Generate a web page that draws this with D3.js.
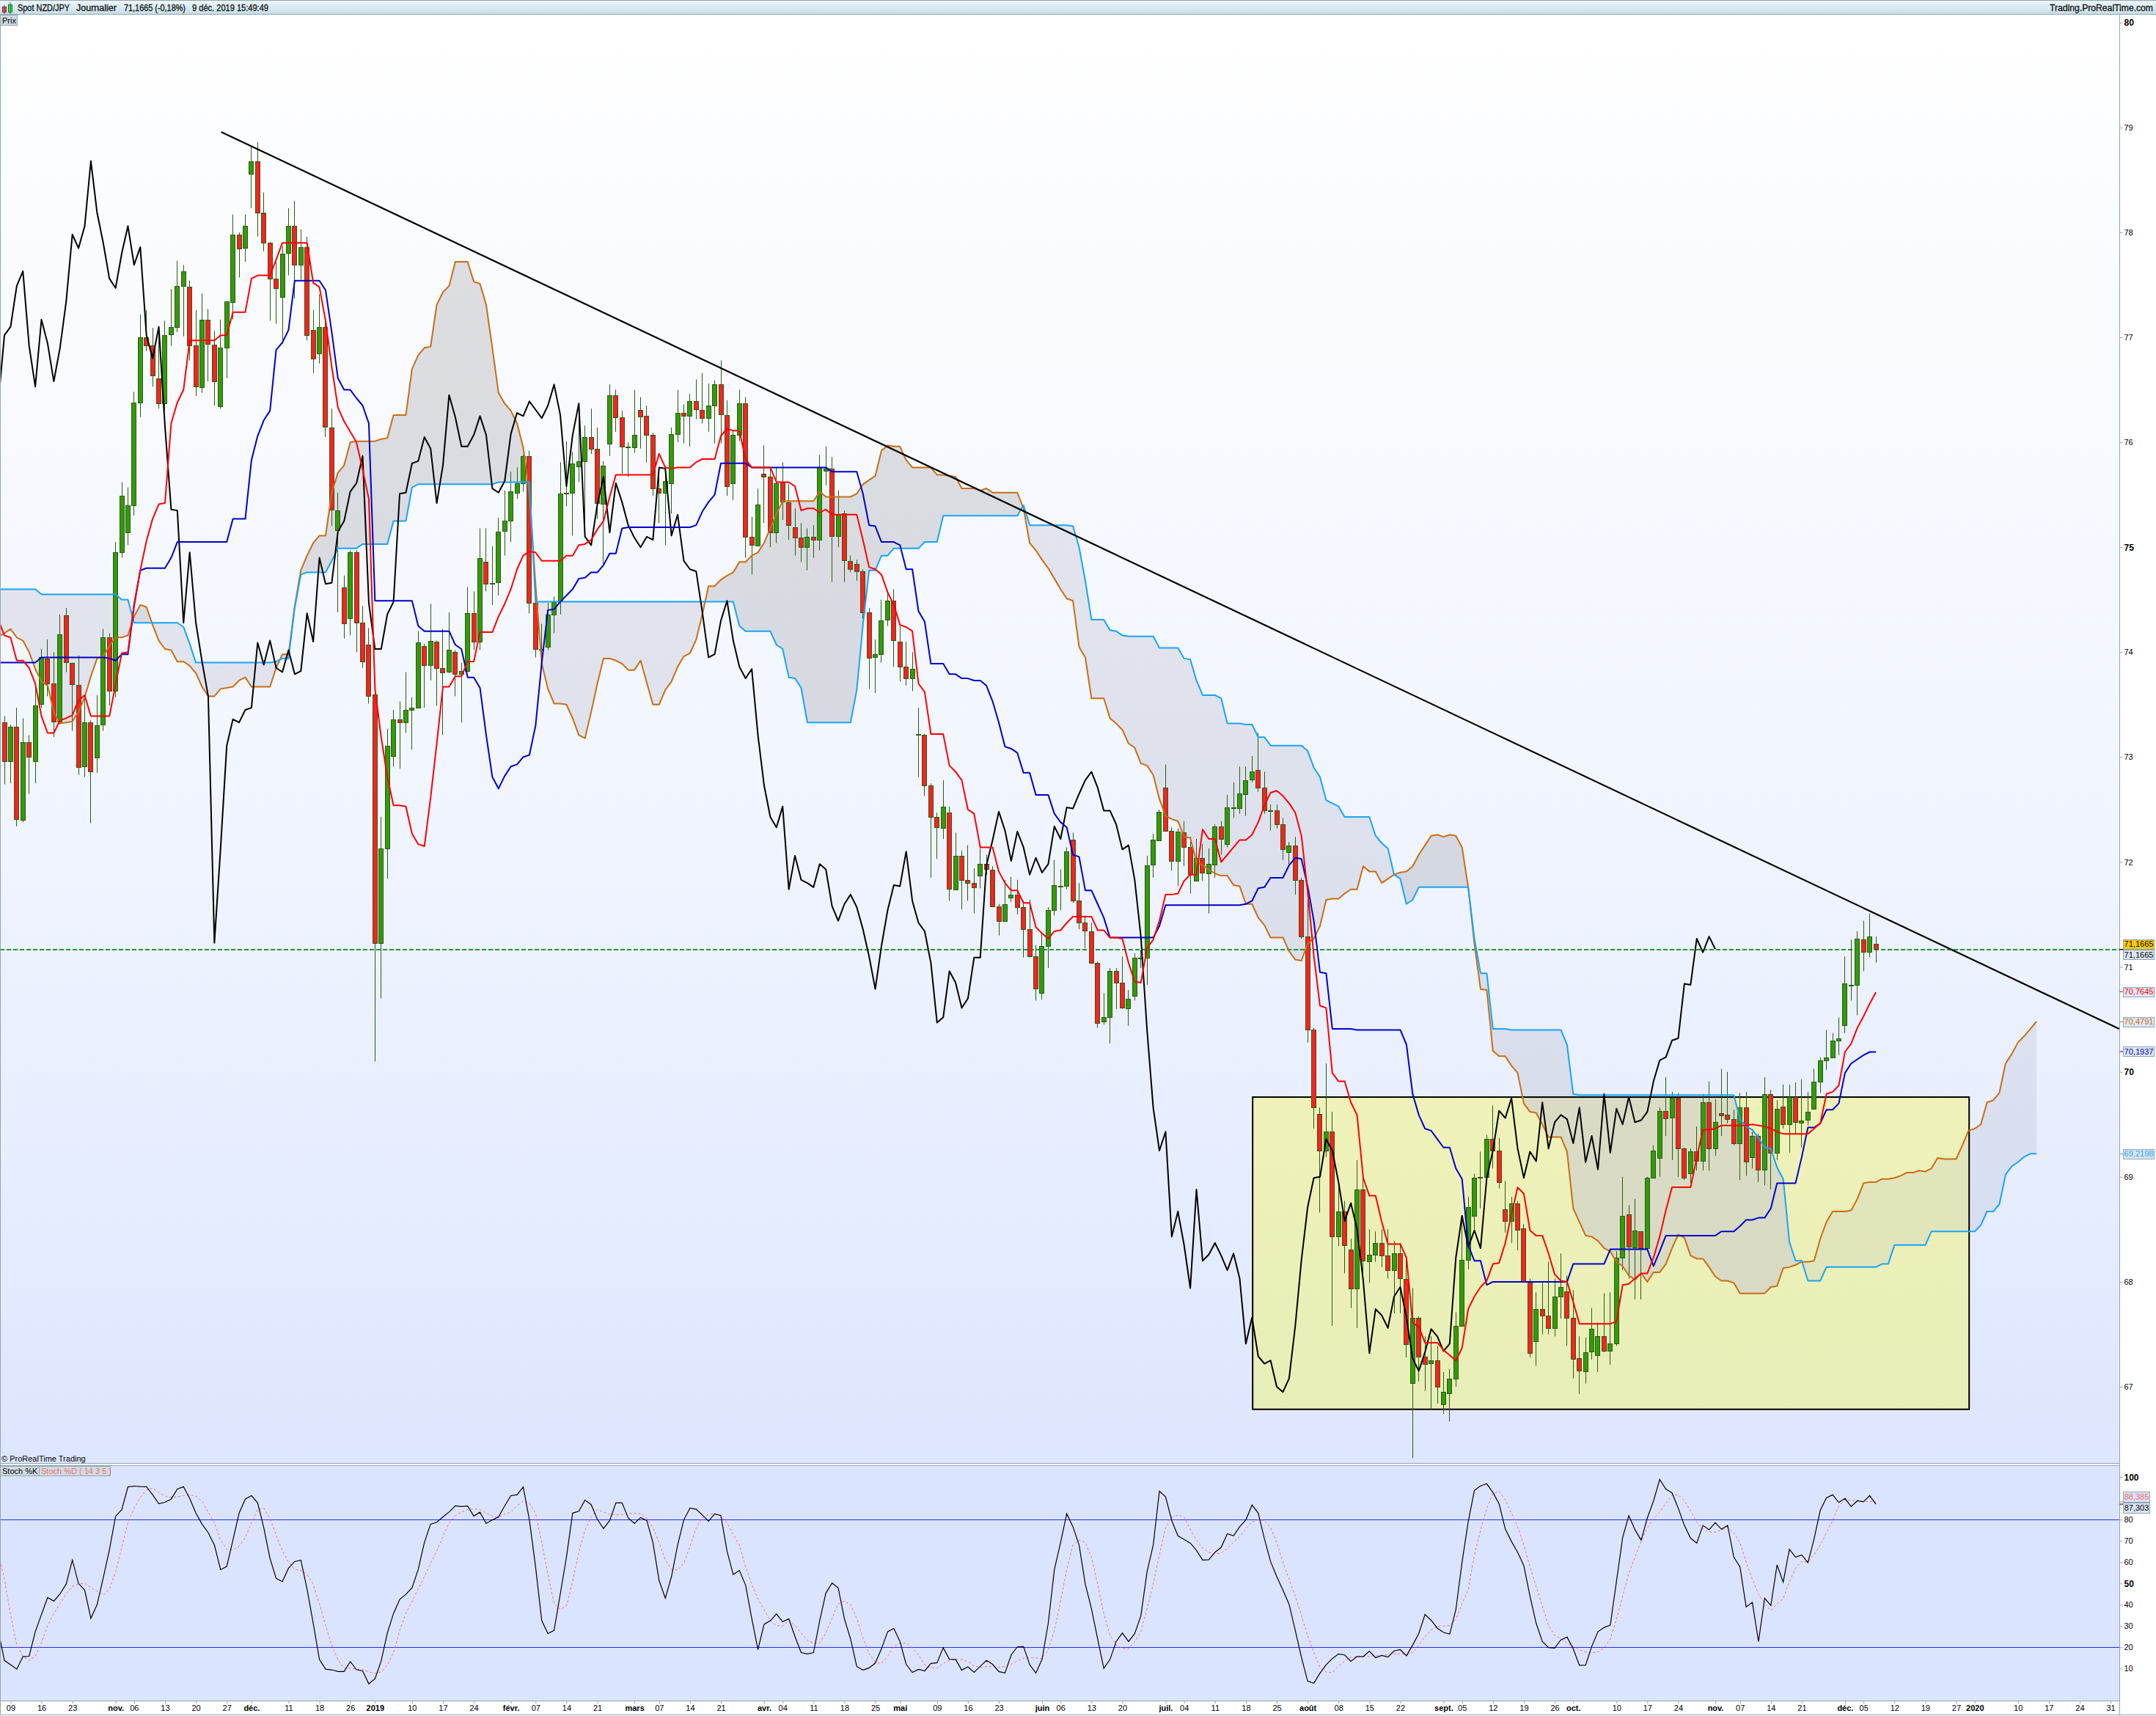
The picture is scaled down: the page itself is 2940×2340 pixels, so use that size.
<!DOCTYPE html>
<html><head><meta charset="utf-8">
<script src="https://cdn.jsdelivr.net/npm/d3@7"></script>
<style>
html,body{margin:0;padding:0;background:#fff}
svg{display:block}
text{font-family:"Liberation Sans",Arial,sans-serif}
</style></head><body>
<svg id="c" width="2940" height="2340" xmlns="http://www.w3.org/2000/svg"></svg>
<script>
const opens=[
73.33,72.96,73.29,72.40,73.14,72.96,73.50,73.94,73.70,73.34,
74.35,73.90,73.69,72.91,73.33,72.99,73.31,74.14,73.63,74.95,
75.14,75.40,76.38,77.00,76.92,76.61,76.37,77.03,77.10,77.49,
77.48,76.92,76.53,77.17,76.93,76.34,76.90,77.34,77.98,77.85,
78.56,78.68,78.19,77.90,77.56,77.39,77.80,78.06,77.69,77.86,
77.07,76.85,77.10,76.14,75.16,74.62,74.32,74.95,74.28,74.07,
73.60,71.23,72.13,73.01,73.36,73.33,73.45,73.47,74.06,73.88,
74.10,73.85,73.81,74.00,73.79,73.82,74.37,74.10,74.86,74.65,
74.67,75.15,75.25,75.52,75.61,75.87,74.47,74.02,74.05,74.36,
74.48,75.51,75.52,75.77,75.82,76.05,75.94,75.42,75.99,76.45,
76.24,75.95,75.95,76.31,76.25,76.07,75.56,75.52,75.61,76.08,
76.28,76.25,76.39,76.31,76.23,76.35,76.55,76.26,75.61,76.07,
76.37,75.10,75.02,75.70,75.67,75.14,75.62,75.43,75.19,75.09,
75.00,75.10,75.07,75.73,75.75,75.11,75.32,74.87,74.84,74.77,
74.38,73.95,73.98,74.31,74.49,74.10,73.86,73.75,73.22,73.21,
72.73,72.43,72.33,72.47,71.74,72.06,71.83,71.80,71.87,71.98,
71.93,71.58,71.44,71.66,71.69,71.57,71.36,71.10,70.75,71.20,
71.54,71.77,71.77,72.21,71.63,71.42,71.34,71.04,70.48,70.52,
70.96,70.85,70.61,70.73,71.08,71.09,71.97,72.21,72.71,72.30,
72.01,72.28,72.14,71.82,72.04,71.89,71.98,72.34,72.17,72.52,
72.51,72.65,72.78,72.88,72.71,72.49,72.49,72.36,72.10,72.16,
71.83,71.29,70.40,69.60,69.25,69.43,68.43,68.67,68.31,67.94,
68.88,68.20,68.26,68.37,68.25,68.11,68.27,68.03,67.04,67.66,
67.29,67.22,67.25,66.83,66.94,67.08,67.58,68.21,68.63,68.99,
69.00,69.36,69.25,68.69,68.58,68.75,68.51,68.00,67.43,67.74,
67.68,67.56,67.86,67.91,67.66,67.27,67.15,67.33,67.30,67.48,
67.34,67.41,68.23,68.64,68.33,68.48,68.32,68.99,69.18,69.63,
69.56,69.75,69.27,69.03,69.24,69.15,69.71,69.27,69.61,69.59,
69.55,69.32,69.66,69.19,69.39,69.07,69.79,69.23,69.67,69.50,
69.76,69.52,69.54,69.65,69.91,70.11,70.14,70.30,70.44,70.83,
70.83,71.26,71.14,71.22];
const closes=[
72.96,73.29,72.41,73.14,73.00,73.49,73.95,73.70,73.34,74.17,
73.90,73.70,72.91,73.33,72.86,73.30,74.14,73.63,74.95,75.49,
75.40,76.38,77.00,76.92,76.63,76.37,77.02,77.10,77.49,77.63,
76.92,76.53,77.17,76.94,76.58,76.90,77.34,77.98,77.85,78.06,
78.68,78.19,77.90,77.56,77.47,77.80,78.06,77.69,77.86,77.02,
76.80,77.10,76.15,75.36,75.35,74.28,74.95,74.28,73.91,73.58,
71.23,72.13,73.11,73.36,73.33,73.45,73.47,74.09,73.88,74.11,
73.85,73.81,74.02,73.79,73.82,74.37,74.10,74.90,74.65,74.66,
75.15,75.25,75.53,75.61,75.87,74.47,74.03,74.03,74.36,74.48,
75.51,75.52,75.80,75.82,76.05,75.94,75.42,75.78,76.45,76.24,
75.96,75.96,76.07,76.25,76.07,75.56,75.52,75.63,76.08,76.28,
76.25,76.39,76.31,76.23,76.35,76.55,76.26,75.58,76.07,76.37,
75.10,75.02,75.41,75.67,75.14,75.61,75.43,75.21,75.09,75.00,
75.10,75.07,75.76,75.75,75.11,75.31,74.87,74.79,74.77,74.38,
73.95,73.98,74.30,74.49,74.11,73.86,73.75,73.84,73.21,72.73,
72.43,72.33,72.53,71.74,72.06,71.83,71.80,71.76,71.98,71.93,
71.58,71.44,71.60,71.69,71.57,71.36,71.10,70.79,71.20,71.54,
71.78,71.77,72.10,71.63,71.42,71.34,71.04,70.47,70.52,70.96,
70.85,70.61,70.70,71.09,71.09,71.97,72.21,72.48,72.30,72.01,
72.29,72.14,71.88,72.04,71.90,71.98,72.34,72.22,72.52,72.51,
72.65,72.78,72.86,72.71,72.49,72.49,72.36,72.12,72.16,71.83,
71.29,70.40,69.66,69.25,69.43,68.43,68.67,68.35,67.94,68.88,
68.20,68.26,68.37,68.25,68.11,68.27,68.03,67.41,67.66,67.29,
67.22,67.25,67.00,66.95,67.08,67.58,68.21,68.71,68.99,69.00,
69.36,69.25,68.95,68.58,68.75,68.50,68.01,67.32,67.74,67.68,
67.56,67.86,67.95,67.66,67.27,67.15,67.33,67.55,67.48,67.34,
67.41,68.23,68.63,68.33,68.49,68.32,68.99,69.25,69.63,69.56,
69.75,69.27,68.99,69.24,69.15,69.71,69.27,69.52,69.59,69.55,
69.32,69.66,69.14,69.39,69.07,69.79,69.23,69.65,69.50,69.76,
69.52,69.54,69.62,69.91,70.11,70.14,70.30,70.32,70.84,70.83,
71.27,71.14,71.29,71.17];
const highs=[
73.39,73.31,73.47,73.37,73.21,73.69,74.03,74.12,74.00,74.36,
74.42,73.90,73.97,73.57,73.35,73.59,74.22,74.18,75.05,75.62,
75.57,76.48,77.22,77.26,77.09,77.09,77.16,77.46,77.73,77.69,
77.54,77.26,77.42,77.27,77.06,77.17,77.34,78.17,78.00,78.17,
78.82,78.86,78.38,77.91,77.72,77.87,78.23,78.30,78.03,77.96,
77.26,77.41,77.20,76.32,75.52,74.73,74.97,74.97,74.44,74.23,
73.66,72.43,73.27,73.45,73.53,73.81,73.57,74.20,74.08,74.46,
74.11,74.22,74.38,74.02,73.90,74.62,74.58,75.18,75.18,75.01,
75.28,75.54,75.72,75.76,75.88,75.92,74.50,74.27,74.47,74.53,
75.81,76.01,75.91,76.37,76.16,76.32,76.14,75.82,76.55,76.50,
76.30,76.00,76.50,76.43,76.35,76.09,75.75,75.77,76.14,76.50,
76.36,76.46,76.60,76.66,76.56,76.59,76.78,76.40,76.12,76.50,
76.43,75.29,75.56,75.97,75.76,75.76,75.81,75.60,75.37,75.23,
75.18,75.21,75.88,75.96,75.86,75.54,75.35,74.92,74.88,74.79,
74.42,74.12,74.50,74.59,74.60,74.25,74.10,74.00,73.47,73.22,
72.75,72.47,72.78,72.53,72.28,72.11,72.16,71.94,72.13,72.07,
71.96,71.60,71.83,71.86,71.83,71.63,71.64,71.21,71.32,71.57,
72.02,71.93,72.14,72.28,71.80,71.49,71.42,71.05,70.75,70.99,
70.99,71.10,70.78,71.13,71.16,72.06,72.27,72.50,72.93,72.33,
72.32,72.39,72.24,72.22,72.17,72.13,72.36,72.39,72.64,72.76,
72.91,72.91,73.01,73.23,72.86,72.55,72.55,72.42,72.19,72.24,
71.85,71.64,70.42,69.66,70.08,69.62,68.95,68.77,68.41,69.16,
69.04,68.50,68.48,68.50,68.50,68.39,68.37,68.23,67.94,67.67,
67.48,67.48,67.39,67.14,67.17,67.71,68.61,68.81,69.03,69.24,
69.40,69.68,69.37,68.96,68.81,68.77,68.55,68.03,67.90,67.99,
68.19,68.03,68.27,68.06,67.92,67.48,67.47,67.75,67.61,67.89,
67.90,68.29,69.00,68.73,68.79,68.48,69.00,69.30,69.66,69.95,
69.81,69.80,69.28,69.27,69.48,69.79,69.91,69.74,70.03,70.00,
69.64,69.80,69.81,69.43,69.41,69.95,69.83,69.73,69.88,69.88,
69.90,69.93,69.81,70.03,70.14,70.40,70.37,70.52,71.10,71.26,
71.34,71.44,71.51,71.29];
const lows=[
72.74,72.75,72.34,72.38,72.65,72.75,73.47,73.58,73.19,73.31,
73.81,73.25,72.83,72.81,72.37,72.85,73.25,73.49,73.57,74.90,
75.02,75.30,76.24,76.87,76.53,76.32,76.30,76.92,77.05,77.01,
76.78,76.44,76.47,76.58,76.35,76.32,76.61,77.17,77.57,77.72,
78.23,77.96,77.82,77.16,77.13,76.94,77.59,77.37,77.55,76.97,
76.66,76.75,76.05,75.20,74.38,74.13,74.16,74.00,73.85,73.51,
70.10,70.70,71.84,72.91,72.89,73.23,73.07,73.47,73.47,73.73,
73.49,73.21,73.80,73.58,73.33,73.81,74.02,74.02,74.58,74.45,
74.54,74.92,75.05,75.46,75.53,74.37,73.95,73.89,74.02,74.18,
74.36,75.39,75.11,75.62,75.23,75.89,75.27,74.84,75.87,76.10,
75.70,75.67,75.90,75.94,75.81,75.49,75.23,75.02,75.32,76.00,
75.99,75.96,76.22,76.18,76.10,75.99,75.99,75.49,75.45,76.01,
74.90,74.74,75.01,75.23,75.00,75.04,75.26,75.07,74.92,74.86,
74.78,74.90,74.97,75.59,74.67,75.00,74.67,74.76,74.68,74.32,
73.65,73.61,73.90,74.25,73.86,73.72,73.68,73.63,72.81,72.63,
71.85,72.03,72.22,71.63,71.74,71.55,71.63,71.51,71.75,71.88,
71.57,71.30,71.44,71.62,71.50,71.09,71.09,70.68,70.69,70.99,
71.49,71.54,71.74,71.61,71.36,71.18,71.03,70.42,70.45,70.27,
70.60,70.60,70.44,70.68,70.99,70.83,71.85,72.21,72.30,71.92,
71.77,71.96,71.70,71.82,71.82,71.51,71.85,72.07,72.14,72.42,
72.46,72.44,72.76,72.67,72.46,72.30,72.32,72.02,71.98,71.69,
71.27,70.28,69.46,68.66,69.19,67.58,68.34,68.08,67.75,67.56,
68.00,67.99,68.19,68.14,68.03,67.70,67.70,67.28,66.32,67.05,
66.96,66.78,66.84,66.74,66.67,67.00,67.57,68.12,68.50,68.70,
69.00,69.08,68.89,68.47,68.37,68.30,68.00,67.28,67.20,67.50,
67.50,67.48,67.65,67.39,67.08,66.93,67.03,67.26,67.14,67.33,
67.21,67.39,68.11,68.03,67.83,67.83,68.30,68.99,69.00,69.39,
69.16,69.00,68.97,68.94,69.06,69.06,69.06,69.20,69.39,69.51,
69.30,68.97,69.01,69.08,68.95,68.92,68.88,69.16,69.46,69.23,
69.41,69.28,69.49,69.64,69.80,70.02,70.14,70.16,70.37,70.68,
70.54,70.96,71.09,71.04];
// The line series below start one bar before the first candle (bar -1, at the left edge).
const tenkan=[74.31,
74.16,74.14,73.92,73.92,73.85,73.70,73.39,73.23,73.23,73.35,
73.37,73.40,73.54,73.59,73.39,73.39,73.39,73.39,73.69,73.99,
74.00,74.46,74.78,75.06,75.27,75.41,75.42,76.18,76.38,76.50,
76.97,76.97,76.97,76.97,76.97,77.02,77.02,77.24,77.24,77.24,
77.56,77.59,77.59,77.59,77.74,77.90,77.90,77.90,77.90,77.90,
77.52,77.48,77.16,76.72,76.33,76.20,76.10,76.00,75.74,75.46,
73.65,73.19,72.81,72.54,72.54,72.53,72.27,72.17,72.15,72.61,
73.13,73.67,73.67,73.77,73.77,73.91,73.91,74.19,74.19,74.19,
74.34,74.46,74.60,74.79,74.92,74.96,74.95,74.87,74.87,74.87,
74.87,74.92,74.92,75.02,75.03,75.07,75.17,75.25,75.48,75.69,
75.69,75.69,75.69,75.69,75.69,75.69,75.89,75.76,75.75,75.76,
75.76,75.76,75.81,75.84,75.84,75.84,76.06,76.13,76.11,76.11,
75.84,75.76,75.76,75.76,75.76,75.62,75.62,75.62,75.58,75.35,
75.37,75.37,75.33,75.36,75.31,75.31,75.31,75.31,75.31,75.07,
74.81,74.79,74.74,74.57,74.45,74.26,74.24,74.20,73.70,73.62,
73.22,73.22,73.22,72.92,72.86,72.78,72.50,72.46,72.14,72.14,
72.14,71.91,71.80,71.73,71.73,71.61,71.61,71.38,71.32,71.27,
71.34,71.35,71.42,71.48,71.48,71.48,71.48,71.35,71.35,71.28,
71.28,71.27,71.04,70.86,70.85,71.18,71.26,71.44,71.69,71.69,
71.70,71.82,71.88,71.88,72.31,72.22,72.22,72.00,72.07,72.14,
72.21,72.21,72.26,72.38,72.54,72.66,72.68,72.63,72.56,72.47,
72.25,71.72,71.11,70.63,70.61,69.99,69.91,69.91,69.71,69.59,
68.99,68.82,68.82,68.57,68.36,68.36,68.36,68.23,67.61,67.57,
67.42,67.42,67.42,67.35,67.30,67.25,67.37,67.74,67.86,67.95,
68.01,68.17,68.18,68.37,68.64,68.90,68.84,68.49,68.44,68.44,
68.27,68.07,68.01,68.00,67.81,67.60,67.60,67.60,67.60,67.60,
67.60,67.62,67.97,67.98,68.03,68.08,68.08,68.23,68.43,68.68,
68.90,68.90,68.90,68.90,69.18,69.45,69.45,69.46,69.49,69.49,
69.49,69.49,69.49,69.50,69.49,69.48,69.46,69.43,69.41,69.41,
69.41,69.41,69.41,69.46,69.51,69.79,69.81,69.87,70.19,70.27,
70.42,70.53,70.65,70.76];
const kijun=[73.90,
73.90,73.90,73.90,73.90,73.90,73.90,73.95,73.95,73.95,73.95,
73.95,73.95,73.95,73.95,73.95,73.95,73.95,73.94,73.92,73.98,
73.98,74.44,74.78,74.80,74.80,74.80,74.80,74.90,75.05,75.05,
75.05,75.05,75.05,75.05,75.05,75.05,75.05,75.27,75.27,75.27,
75.83,76.06,76.21,76.30,76.88,76.95,77.07,77.54,77.54,77.54,
77.54,77.54,77.45,77.05,76.61,76.50,76.50,76.42,76.35,76.18,
74.49,74.49,74.49,74.49,74.49,74.49,74.49,74.25,74.20,74.20,
74.20,74.20,74.20,74.07,74.03,73.76,73.76,73.66,73.21,72.81,
72.70,72.82,72.91,72.93,73.00,73.02,73.30,73.90,74.40,74.41,
74.48,74.54,74.60,74.70,74.71,74.76,74.76,74.83,74.94,74.94,
75.18,75.19,75.19,75.19,75.19,75.19,75.19,75.19,75.19,75.19,
75.19,75.19,75.21,75.34,75.43,75.50,75.80,75.80,75.80,75.80,
75.80,75.76,75.76,75.76,75.76,75.76,75.76,75.76,75.76,75.76,
75.76,75.76,75.76,75.76,75.72,75.72,75.72,75.72,75.72,75.51,
75.21,75.20,75.05,75.05,75.05,75.02,74.79,74.79,74.39,74.29,
73.89,73.89,73.89,73.79,73.79,73.75,73.75,73.73,73.73,73.68,
73.53,73.33,73.10,73.08,73.04,72.85,72.85,72.64,72.64,72.64,
72.46,72.38,72.33,72.07,72.05,71.73,71.73,71.60,71.47,71.28,
71.28,71.28,71.28,71.28,71.28,71.28,71.28,71.39,71.59,71.59,
71.59,71.59,71.59,71.59,71.59,71.59,71.59,71.59,71.59,71.59,
71.59,71.60,71.63,71.75,71.76,71.85,71.85,71.85,71.97,72.04,
72.03,71.77,71.44,70.95,70.94,70.41,70.41,70.41,70.41,70.40,
70.40,70.40,70.40,70.40,70.40,70.40,70.40,70.26,69.79,69.59,
69.46,69.44,69.36,69.28,69.28,69.08,68.98,68.35,68.20,68.20,
67.97,68.00,68.00,68.00,68.00,68.00,68.00,68.00,68.00,68.00,
68.00,68.00,68.00,68.00,68.17,68.17,68.17,68.17,68.17,68.17,
68.31,68.31,68.31,68.31,68.31,68.31,68.31,68.15,68.29,68.44,
68.44,68.44,68.44,68.44,68.44,68.44,68.44,68.44,68.48,68.48,
68.48,68.53,68.59,68.59,68.61,68.61,68.70,68.94,68.94,68.94,
68.94,69.19,69.47,69.47,69.51,69.64,69.64,69.70,69.99,70.08,
70.12,70.16,70.19,70.19];
const senkouA=[74.15,
74.18,74.22,74.14,74.11,74.00,73.84,73.72,73.68,73.43,73.32,
73.33,73.34,73.43,73.57,73.77,73.94,73.96,74.06,74.14,74.14,
74.16,74.34,74.45,74.43,74.26,74.11,74.03,74.02,73.91,73.91,
73.87,73.80,73.67,73.58,73.58,73.65,73.66,73.67,73.73,73.76,
73.67,73.67,73.67,73.67,73.85,73.98,73.98,74.44,74.78,74.92,
75.04,75.11,75.11,75.52,75.71,75.78,76.00,76.01,76.01,76.01,
76.01,76.03,76.04,76.26,76.26,76.26,76.70,76.83,76.90,76.91,
77.31,77.43,77.49,77.72,77.72,77.72,77.53,77.51,77.31,76.90,
76.47,76.37,76.30,76.18,75.95,75.51,74.64,73.89,73.65,73.51,
73.51,73.50,73.37,73.21,73.18,73.43,73.70,73.94,73.94,73.92,
73.89,73.83,73.83,73.92,73.71,73.50,73.50,73.64,73.72,73.86,
73.96,73.99,74.12,74.36,74.63,74.63,74.69,74.73,74.76,74.86,
74.86,74.92,74.95,75.04,75.18,75.32,75.44,75.44,75.44,75.44,
75.44,75.44,75.53,75.48,75.48,75.48,75.48,75.48,75.51,75.60,
75.64,75.68,75.92,75.97,75.96,75.96,75.83,75.76,75.76,75.76,
75.76,75.69,75.69,75.68,75.67,75.56,75.56,75.56,75.54,75.56,
75.52,75.52,75.52,75.52,75.52,75.37,75.04,74.97,74.88,74.80,
74.70,74.60,74.51,74.49,74.05,73.95,73.56,73.56,73.56,73.37,
73.32,73.26,73.13,73.09,72.94,72.92,72.83,72.60,72.44,72.41,
72.39,72.24,72.23,72.00,71.97,71.93,71.89,71.87,71.87,71.78,
71.77,71.60,71.60,71.47,71.40,71.28,71.28,71.28,71.15,71.07,
71.06,71.22,71.27,71.39,71.64,71.65,71.65,71.70,71.74,71.74,
71.96,71.91,71.91,71.80,71.84,71.88,71.90,71.91,71.96,72.07,
72.16,72.25,72.26,72.24,72.26,72.25,72.14,71.76,71.22,70.79,
70.78,70.20,70.15,70.15,70.06,69.99,69.70,69.62,69.61,69.50,
69.38,69.38,69.38,69.24,68.70,68.57,68.44,68.43,68.39,68.32,
68.29,68.19,68.15,68.06,68.02,68.08,68.00,68.09,68.09,68.17,
68.32,68.45,68.42,68.25,68.22,68.22,68.14,68.05,68.01,68.01,
67.99,67.89,67.89,67.89,67.89,67.89,67.95,67.96,68.13,68.14,
68.16,68.19,68.19,68.20,68.41,68.57,68.67,68.67,68.67,68.68,
68.79,68.94,68.95,68.95,68.98,68.98,68.99,69.01,69.04,69.04,
69.06,69.05,69.08,69.18,69.17,69.17,69.17,69.30,69.44,69.46,
69.50,69.71,69.73,69.80,70.08,70.17,70.28,70.34,70.41,70.48];
const senkouB=[74.60,
74.60,74.60,74.60,74.60,74.60,74.60,74.55,74.55,74.55,74.55,
74.55,74.55,74.55,74.55,74.55,74.55,74.55,74.55,74.55,74.50,
74.50,74.28,74.28,74.28,74.28,74.28,74.28,74.28,74.28,74.24,
74.08,73.90,73.90,73.90,73.90,73.90,73.90,73.90,73.90,73.90,
73.90,73.90,73.90,73.90,73.91,73.94,73.94,74.42,74.74,74.76,
74.76,74.76,74.76,74.87,74.99,74.99,74.99,74.99,75.03,75.03,
75.03,75.03,75.03,75.25,75.25,75.25,75.57,75.60,75.60,75.60,
75.60,75.60,75.60,75.60,75.60,75.60,75.60,75.60,75.60,75.60,
75.62,75.62,75.62,75.62,75.62,75.62,74.48,74.48,74.48,74.48,
74.48,74.48,74.48,74.48,74.48,74.48,74.48,74.48,74.48,74.48,
74.48,74.48,74.48,74.48,74.48,74.48,74.48,74.48,74.48,74.48,
74.48,74.48,74.48,74.48,74.48,74.48,74.48,74.48,74.48,74.25,
74.20,74.20,74.20,74.20,74.20,74.07,74.03,73.76,73.75,73.66,
73.33,73.33,73.33,73.33,73.33,73.33,73.33,73.33,73.64,74.26,
74.78,74.78,74.92,74.92,74.99,74.99,74.99,74.99,74.99,75.05,
75.05,75.05,75.30,75.30,75.30,75.30,75.30,75.30,75.30,75.30,
75.30,75.30,75.30,75.30,75.30,75.40,75.21,75.21,75.21,75.21,
75.21,75.21,75.21,75.20,75.00,74.68,74.31,74.31,74.31,74.21,
74.20,74.16,74.15,74.15,74.15,74.15,74.15,74.04,74.04,74.04,
74.04,73.94,73.93,73.73,73.59,73.59,73.59,73.56,73.32,73.32,
73.32,73.31,73.31,73.19,73.19,73.11,73.11,73.11,73.11,73.11,
73.11,73.06,72.90,72.81,72.59,72.56,72.53,72.43,72.43,72.43,
72.43,72.43,72.25,72.18,72.13,71.88,71.84,71.60,71.64,71.76,
71.76,71.76,71.76,71.76,71.76,71.76,71.76,71.76,71.27,70.94,
70.94,70.41,70.41,70.41,70.40,70.40,70.40,70.40,70.40,70.40,
70.40,70.40,70.40,70.26,69.79,69.78,69.78,69.78,69.78,69.78,
69.78,69.78,69.78,69.78,69.78,69.78,69.78,69.78,69.78,69.78,
69.78,69.78,69.78,69.78,69.78,69.78,69.78,69.78,69.78,69.78,
69.78,69.55,69.48,69.45,69.37,69.28,69.27,69.09,68.98,68.38,
68.20,68.20,68.01,68.01,68.01,68.14,68.14,68.14,68.14,68.14,
68.14,68.14,68.14,68.14,68.17,68.17,68.35,68.35,68.35,68.35,
68.35,68.35,68.48,68.48,68.48,68.48,68.48,68.48,68.48,68.48,
68.54,68.67,68.67,68.74,69.02,69.10,69.14,69.19,69.22,69.22];
const chikou=[76.37,
77.02,77.10,77.49,77.63,76.92,76.53,77.17,76.94,76.58,76.90,
77.34,77.98,77.85,78.06,78.68,78.19,77.90,77.56,77.47,77.80,
78.06,77.69,77.86,77.02,76.80,77.10,76.15,75.36,75.35,74.28,
74.95,74.28,73.91,73.58,71.23,72.13,73.11,73.36,73.33,73.45,
73.47,74.09,73.88,74.11,73.85,73.81,74.02,73.79,73.82,74.37,
74.10,74.90,74.65,74.66,75.15,75.25,75.53,75.61,75.87,74.47,
74.03,74.03,74.36,74.48,75.51,75.52,75.80,75.82,76.05,75.94,
75.42,75.78,76.45,76.24,75.96,75.96,76.07,76.25,76.07,75.56,
75.52,75.63,76.08,76.28,76.25,76.39,76.31,76.23,76.35,76.55,
76.26,75.58,76.07,76.37,75.10,75.02,75.41,75.67,75.14,75.61,
75.43,75.21,75.09,75.00,75.10,75.07,75.76,75.75,75.11,75.31,
74.87,74.79,74.77,74.38,73.95,73.98,74.30,74.49,74.11,73.86,
73.75,73.84,73.21,72.73,72.43,72.33,72.53,71.74,72.06,71.83,
71.80,71.76,71.98,71.93,71.58,71.44,71.60,71.69,71.57,71.36,
71.10,70.79,71.20,71.54,71.78,71.77,72.10,71.63,71.42,71.34,
71.04,70.47,70.52,70.96,70.85,70.61,70.70,71.09,71.09,71.97,
72.21,72.48,72.30,72.01,72.29,72.14,71.88,72.04,71.90,71.98,
72.34,72.22,72.52,72.51,72.65,72.78,72.86,72.71,72.49,72.49,
72.36,72.12,72.16,71.83,71.29,70.40,69.66,69.25,69.43,68.43,
68.67,68.35,67.94,68.88,68.20,68.26,68.37,68.25,68.11,68.27,
68.03,67.41,67.66,67.29,67.22,67.25,67.00,66.95,67.08,67.58,
68.21,68.71,68.99,69.00,69.36,69.25,68.95,68.58,68.75,68.50,
68.01,67.32,67.74,67.68,67.56,67.86,67.95,67.66,67.27,67.15,
67.33,67.55,67.48,67.34,67.41,68.23,68.63,68.33,68.49,68.32,
68.99,69.25,69.63,69.56,69.75,69.27,68.99,69.24,69.15,69.71,
69.27,69.52,69.59,69.55,69.32,69.66,69.14,69.39,69.07,69.79,
69.23,69.65,69.50,69.76,69.52,69.54,69.62,69.91,70.11,70.14,
70.30,70.32,70.84,70.83,71.27,71.14,71.29,71.17];
const stochK=[28.0,
13.8,11.8,9.7,15.6,15.8,27.3,35.4,43.4,41.7,45.1,
49.7,61.0,50.0,46.9,33.6,40.0,52.6,65.8,81.6,84.7,
95.4,95.8,95.6,95.5,91.7,87.5,88.2,89.7,94.4,95.5,
90.0,83.1,77.9,73.9,68.1,56.5,58.0,70.4,83.1,89.7,
91.3,87.9,76.2,61.8,52.4,50.9,57.2,60.3,61.0,47.4,
31.3,14.3,9.7,9.4,8.6,8.6,13.3,9.5,8.9,2.8,
5.2,13.5,26.7,35.9,42.5,44.9,48.0,56.6,69.3,77.9,
78.8,81.3,83.6,86.5,86.2,86.4,81.7,83.5,78.2,79.9,
81.3,86.5,91.3,91.7,95.4,79.9,57.8,32.5,26.5,27.9,
45.1,62.4,83.1,84.0,89.2,87.1,80.2,75.8,79.6,87.9,
87.9,80.8,78.2,81.0,79.6,69.3,51.4,43.1,53.2,68.1,
79.9,85.5,84.9,82.2,79.3,82.7,81.9,65.2,54.2,56.1,
49.2,33.6,18.9,30.8,32.5,35.7,32.0,33.4,25.0,17.5,
16.9,17.5,32.5,45.5,50.2,47.9,33.4,23.9,11.0,9.3,
10.3,12.6,19.3,27.3,28.9,22.7,12.0,8.2,9.6,8.9,
12.4,12.7,19.8,14.4,14.3,9.3,10.8,8.2,11.1,13.8,
12.0,8.6,7.9,16.4,20.2,20.3,11.8,7.9,14.3,31.3,
56.6,69.3,82.8,76.7,68.1,49.7,38.2,23.9,10.1,14.3,
22.7,26.7,22.7,26.4,34.8,55.5,68.1,93.4,90.8,79.6,
72.4,70.7,69.0,65.6,61.0,61.2,64.7,67.0,73.4,72.4,
76.7,79.9,86.9,83.1,71.0,60.3,53.2,46.9,40.2,27.9,
15.2,4.1,3.1,7.8,11.8,14.7,16.9,16.4,13.4,15.7,
15.6,18.2,15.1,16.2,15.4,18.3,18.9,16.0,21.0,26.5,
35.4,32.7,29.0,27.0,26.2,37.7,60.0,79.0,93.8,95.9,
96.9,92.8,87.4,75.6,69.8,64.7,58.4,44.0,31.3,22.7,
19.9,19.6,23.5,24.8,19.3,11.5,11.6,20.4,27.3,29.3,
30.4,50.9,71.6,81.9,75.3,70.4,80.8,88.8,98.9,94.4,
92.6,85.4,77.3,71.3,69.0,77.3,75.3,78.6,75.5,77.3,
62.4,57.8,39.0,41.1,22.7,43.1,39.6,58.7,50.6,66.1,
62.4,63.4,59.8,71.0,84.4,90.3,91.7,88.1,90.0,86.2,
88.9,88.4,91.3,87.3];
const stochD=[65.0,
52.0,35.4,21.0,15.8,13.8,15.8,22.1,30.2,35.9,40.5,
45.1,48.6,49.7,50.1,48.0,46.3,44.6,47.4,55.5,67.0,
78.5,85.4,90.5,94.0,94.8,92.8,91.1,90.5,90.8,91.3,
91.7,91.1,88.6,83.6,78.5,70.4,66.1,65.8,67.5,71.6,
78.5,84.8,85.4,80.8,72.7,65.3,60.1,56.6,56.1,54.3,
49.7,40.5,30.2,21.0,14.1,10.1,10.1,9.8,9.5,8.4,
7.8,8.4,11.8,17.5,27.9,35.9,41.7,47.4,53.2,59.5,
65.3,72.1,78.5,81.9,83.6,84.8,85.1,84.8,83.1,81.7,
81.3,82.5,83.6,86.5,88.8,87.7,83.1,69.3,54.3,40.5,
37.9,39.4,50.9,64.7,75.0,81.3,84.8,83.6,82.5,82.3,
82.3,82.8,83.1,82.8,80.8,76.2,69.3,61.2,56.6,56.3,
59.5,67.5,76.2,80.8,82.5,82.7,81.9,78.5,73.1,68.1,
57.8,49.7,42.8,37.7,32.5,30.2,30.0,32.5,30.2,26.7,
23.3,21.9,22.1,26.7,33.6,40.5,41.7,40.0,33.6,24.4,
17.0,13.0,12.4,15.8,20.4,21.9,21.9,19.8,16.4,11.8,
10.3,10.3,12.4,13.9,14.3,14.3,13.3,11.2,10.6,10.9,
10.9,10.6,10.9,12.0,13.5,14.9,15.1,15.0,14.7,18.7,
27.9,41.7,56.6,68.1,70.4,69.3,62.4,49.7,35.9,25.6,
21.0,19.5,19.3,22.7,27.3,38.2,49.7,63.5,76.2,81.3,
82.1,81.3,75.6,70.4,66.7,64.7,63.8,64.4,66.4,69.3,
72.1,75.6,79.0,79.9,79.6,76.2,69.3,60.1,52.0,44.0,
34.8,25.6,17.5,10.6,8.4,8.1,11.2,13.5,15.3,15.6,
15.6,15.8,16.0,16.2,16.5,16.7,17.0,16.6,17.5,21.0,
25.0,28.2,30.0,30.0,30.2,33.1,40.5,47.0,63.5,75.0,
85.4,92.3,93.4,89.4,83.1,76.7,68.1,57.8,48.6,39.4,
30.2,25.6,23.9,22.1,20.4,18.9,17.8,17.3,17.8,19.8,
23.9,33.1,44.0,54.9,62.4,69.8,76.2,80.2,83.6,87.7,
91.6,91.7,88.8,84.2,79.0,75.6,74.2,74.1,75.2,76.2,
73.9,69.3,60.1,52.0,45.1,40.5,37.3,40.5,42.8,50.9,
57.2,60.3,60.1,63.5,68.1,73.9,79.6,86.5,89.2,89.2,
88.8,88.6,88.6,88.4];

const dateTickBars=[1,6,11,18,21,26,31,36,40,46,51,56,60,66,71,76,82,86,91,96,102,106,111,116,123,126,131,136,141,145,151,156,161,168,171,176,181,188,191,196,201,206,211,216,221,226,233,236,241,246,251,254,261,266,271,277,281,286,291,298,301,306,311,316,319,326,331,336,341];
const dateTickLabels=["09","16","23","nov.","06","13","20","27","déc.","11","18","26","2019","10","17","24","févr.","07","14","21","mars","07","14","21","avr.","04","11","18","25","mai","09","16","23","juin","06","13","20","juil.","04","11","18","25","août","08","15","22","sept.","05","12","19","26","oct.","10","17","24","nov.","07","14","21","déc.","05","12","19","27","2020","10","17","24","31"];
const boldDateLabels=["nov.","déc.","2019","févr.","mars","avr.","mai","juin","juil.","août","sept.","oct.","2020"];
const priceTicks=[80,79,78,77,76,75,74,73,72,71,70,69,68,67];
const boldPriceTicks=[80,75,70];
const stochTicks=[100,80,70,60,50,40,30,20,10];
const boldStochTicks=[100,50];
const lastPrice=71.1665;
const trendBars=[35.1,342.4], trendPrices=[78.957,70.41];
const boxBars=[202.1,318.1], boxPrices=[69.76,66.785];
const stochLevels=[80,20];
const valueTags=[
 {t:"70,7645",v:70.7645,c:"#ff0000"},
 {t:"70,4791",v:70.4791,c:"#c87010"},
 {t:"70,1937",v:70.1937,c:"#0000c8"},
 {t:"69,2198",v:69.2198,c:"#1aa5f5"}];

const svg=d3.select("#c");
const W=2940,H=2340,axisX=2890.5,mainTop=20,mainBot=1995,stTop=1999,stBot=2319;
const x=d3.scaleLinear().domain([0,303]).range([6,2558]);
const y=d3.scaleLinear().domain([80,67]).range([30.7,30.7+13*143.1]);
const yS=d3.scaleLinear().domain([80,20]).range([2072.3,2246.3]);
const defs=svg.append("defs");
const bg=defs.append("linearGradient").attr("id","bg").attr("x1",0).attr("y1",0).attr("x2",0).attr("y2",1);
[[0,"#ffffff"],[.25,"#f8faff"],[.5,"#f2f6ff"],[.75,"#e9effe"],[1,"#dde6ff"]].forEach(s=>bg.append("stop").attr("offset",s[0]).attr("stop-color",s[1]));
const bar=defs.append("linearGradient").attr("id","bar").attr("x1",0).attr("y1",0).attr("x2",0).attr("y2",1);
[[0,"#eef7fb"],[1,"#c4dde8"]].forEach(s=>bar.append("stop").attr("offset",s[0]).attr("stop-color",s[1]));
const yb=defs.append("linearGradient").attr("id","yb").attr("x1",0).attr("y1",0).attr("x2",0).attr("y2",1);
[[0,"#eff2b8"],[1,"#e8eeb8"]].forEach(s=>yb.append("stop").attr("offset",s[0]).attr("stop-color",s[1]));
defs.append("clipPath").attr("id","clipMain").append("rect").attr("x",1).attr("y",mainTop).attr("width",axisX-1).attr("height",mainBot-mainTop);
defs.append("clipPath").attr("id","clipSt").append("rect").attr("x",1).attr("y",stTop).attr("width",axisX-1).attr("height",stBot-stTop);
const bx0=x(boxBars[0]),bx1=x(boxBars[1]),by0=y(boxPrices[0]),by1=y(boxPrices[1]);
defs.append("clipPath").attr("id","inBox").append("rect").attr("x",bx0).attr("y",by0).attr("width",bx1-bx0).attr("height",by1-by0);
defs.append("clipPath").attr("id","outBox").append("path").attr("clip-rule","evenodd")
 .attr("d",`M0 0H${W}V${H}H0Z M${bx0} ${by0}H${bx1}V${by1}H${bx0}Z`);

// panels
svg.append("rect").attr("width",W).attr("height",H).attr("fill","#fff");
svg.append("rect").attr("x",1).attr("y",mainTop).attr("width",axisX-1).attr("height",mainBot-mainTop).attr("fill","url(#bg)");
svg.append("rect").attr("x",1).attr("y",stTop).attr("width",axisX-1).attr("height",stBot-stTop).attr("fill","#dbe4fe");

// main plot
const main=svg.append("g").attr("clip-path","url(#clipMain)");
main.append("rect").attr("x",bx0).attr("y",by0).attr("width",bx1-bx0).attr("height",by1-by0).attr("fill","url(#yb)");

// cloud runs split at the crossings of the two spans (bar = array index - 1)
const runs=[];let cur=null;
senkouA.forEach((a,k)=>{
  const i=k-1,b=senkouB[k],s=a>=b?1:-1;
  if(!cur||cur.s!==s){
    if(cur){const pa=senkouA[k-1],pb=senkouB[k-1],t=(pa-pb)/((pa-pb)-(a-b)),v=pa+(a-pa)*t,c={i:i-1+t,a:v,b:v};cur.pts.push(c);cur={s,start:i,pts:[c]};}
    else cur={s,start:i,pts:[]};
    runs.push(cur);
  }
  cur.pts.push({i,a,b});
});
const area=d3.area().x(d=>x(d.i)).y0(d=>y(d.a)).y1(d=>y(d.b));
const cloudOut=main.append("g").attr("clip-path","url(#outBox)");
const cloudIn=main.append("g").attr("clip-path","url(#inBox)");
runs.forEach(r=>{
  const future=r.start>=285;
  cloudOut.append("path").attr("d",area(r.pts)).attr("fill",r.s>0?(future?"rgba(170,175,190,.22)":"rgba(105,105,105,.2)"):"rgba(150,150,165,.2)");
  cloudIn.append("path").attr("d",area(r.pts)).attr("fill",r.s>0?"rgba(197,197,200,.25)":"rgba(200,200,205,.55)");
});
main.append("rect").attr("x",bx0).attr("y",by0).attr("width",bx1-bx0).attr("height",by1-by0).attr("fill","none").attr("stroke","#000").attr("stroke-width",2);

// last-price line
main.append("line").attr("x1",0).attr("x2",axisX).attr("y1",Math.round(y(lastPrice))).attr("y2",Math.round(y(lastPrice))).attr("stroke","#129a3c").attr("stroke-width",2).attr("stroke-dasharray","6 3");

// candles
const cg=main.append("g");
const RX=i=>Math.round(x(i)-.5);
cg.selectAll("line.w").data(opens).join("line").attr("class","w")
 .attr("x1",(d,i)=>RX(i)+.5).attr("x2",(d,i)=>RX(i)+.5).attr("y1",(d,i)=>y(highs[i])).attr("y2",(d,i)=>y(lows[i]))
 .attr("stroke","#2d5c10").attr("stroke-width",1);
cg.selectAll("rect.b").data(opens).join("rect").attr("class","b")
 .attr("x",(d,i)=>RX(i)-2.5).attr("width",6)
 .attr("y",(d,i)=>Math.round(y(Math.max(d,closes[i])))+.5)
 .attr("height",(d,i)=>Math.max(1,Math.round(Math.abs(y(d)-y(closes[i])))))
 .attr("fill",(d,i)=>closes[i]>=d?"#339a0c":"#ff2020").attr("stroke","#2d5c10").attr("stroke-width",1);

// ichimoku lines: every series starts at bar -1
const lineFrom=(arr,yy)=>d3.line().x((d,k)=>x(k-1)).y(d=>yy(d))(arr);
const il=(a,c,w)=>main.append("path").attr("d",lineFrom(a,y)).attr("fill","none").attr("stroke",c).attr("stroke-width",w).attr("stroke-linejoin","round");
il(senkouA,"#c86e12",2);
il(senkouB,"#18a4f6",2);
il(chikou,"#000",2);
il(kijun,"#0000c8",2);
il(tenkan,"#ff0000",2);
main.append("line").attr("x1",x(trendBars[0])).attr("y1",y(trendPrices[0])).attr("x2",x(trendBars[1])).attr("y2",y(trendPrices[1])).attr("stroke","#000").attr("stroke-width",2.2);

// stochastic
const st=svg.append("g").attr("clip-path","url(#clipSt)");
stochLevels.forEach(l=>st.append("line").attr("x1",0).attr("x2",axisX).attr("y1",Math.round(yS(l))+.5).attr("y2",Math.round(yS(l))+.5).attr("stroke","#2a2aee").attr("stroke-width",1));
st.append("path").attr("d",lineFrom(stochD,yS)).attr("fill","none").attr("stroke","#f06a70").attr("stroke-width",1).attr("stroke-dasharray","3 3");
st.append("path").attr("d",lineFrom(stochK,yS)).attr("fill","none").attr("stroke","#000").attr("stroke-width",1.2);

// frames
const gray="#93a4b0";
[[0,mainBot+.5,axisX,mainBot+.5],[0,stTop-.5,axisX,stTop-.5],[0,stBot+.5,axisX,stBot+.5],[0,H-1.5,W,H-1.5],[axisX,mainTop,axisX,H-2],[.5,mainTop,.5,H-2]].forEach(l=>
 svg.append("line").attr("x1",l[0]).attr("y1",l[1]).attr("x2",l[2]).attr("y2",l[3]).attr("stroke",gray).attr("stroke-width",1));

// axes
const styleAxis=(g,bolds)=>{g.select(".domain").remove();
  g.selectAll("line").attr("stroke",gray);
  g.selectAll("text").attr("fill","#000").attr("font-size",11).attr("font-family","Liberation Sans").attr("font-weight",d=>bolds.includes(d)?"bold":"normal");};
const axP=svg.append("g").attr("transform",`translate(${axisX},0)`).call(d3.axisRight(y).tickValues(priceTicks).tickSize(4).tickPadding(2).tickFormat(d3.format("d")));
styleAxis(axP,boldPriceTicks); axP.selectAll("text").filter(d=>boldPriceTicks.includes(d)).attr("font-size",12);
const axS=svg.append("g").attr("transform",`translate(${axisX},0)`).call(d3.axisRight(yS).tickValues(stochTicks).tickSize(4).tickPadding(2).tickFormat(d3.format("d")));
styleAxis(axS,boldStochTicks); axS.selectAll("text").filter(d=>boldStochTicks.includes(d)).attr("font-size",12);
const axX=svg.append("g").attr("transform",`translate(0,${stBot})`).call(d3.axisBottom(x).tickValues(dateTickBars).tickSize(4).tickPadding(2).tickFormat((d,i)=>dateTickLabels[i]));
axX.select(".domain").remove(); axX.selectAll("line").attr("stroke",gray);
axX.selectAll("text").attr("fill","#000").attr("font-size",11).attr("font-family","Liberation Sans").attr("font-weight",function(){return boldDateLabels.includes(this.textContent)?"bold":"normal"});

// value tags
const tag=(t,cy,c,fill,tickY,tickC)=>{
  svg.append("line").attr("x1",axisX).attr("x2",axisX+5).attr("y1",tickY).attr("y2",tickY).attr("stroke",tickC||c);
  svg.append("rect").attr("x",2895.5).attr("y",Math.round(cy-6.5)+.5).attr("width",42).attr("height",13).attr("fill",fill).attr("stroke","#8fa3ad");
  svg.append("text").attr("x",2916.5).attr("y",cy+4).attr("text-anchor","middle").attr("font-size",11).attr("fill",c).text(t);
};
valueTags.forEach(d=>tag(d.t,y(d.v),d.c,"#dce6f6",y(d.v)));
tag("71,1665",y(lastPrice)-7.3,"#000","#ffcc00",y(lastPrice),"#000");
tag("71,1665",y(lastPrice)+7,"#000","#dce6f6",y(lastPrice),"#000");
const stag=(t,cy,c,tc)=>{
  svg.append("line").attr("x1",axisX).attr("x2",axisX+5).attr("y1",cy<2050?yS(88.385):yS(87.303)).attr("y2",cy<2050?yS(88.385):yS(87.303)).attr("stroke",tc);
  svg.append("rect").attr("x",2895.5).attr("y",Math.round(cy-7)+.5).attr("width",36).attr("height",14).attr("fill","#d8e4f4").attr("stroke","#8fa3ad");
  svg.append("text").attr("x",2913.5).attr("y",cy+4).attr("text-anchor","middle").attr("font-size",11).attr("fill",c).text(t);
};
stag("88,385",2041,"#f06a70","#f06a70");
stag("87,303",2056,"#000","#000");

// header
svg.append("rect").attr("x",0).attr("y",0).attr("width",W).attr("height",mainTop).attr("fill","url(#bar)");
svg.append("line").attr("x1",0).attr("x2",W).attr("y1",mainTop-.5).attr("y2",mainTop-.5).attr("stroke",gray);
svg.append("line").attr("x1",0).attr("x2",W).attr("y1",.5).attr("y2",.5).attr("stroke",gray);
svg.append("rect").attr("x",3.5).attr("y",9.5).attr("width",5).attr("height",7).attr("fill","#e05a5a").attr("stroke","#803030");
svg.append("line").attr("x1",6).attr("x2",6).attr("y1",7).attr("y2",19).attr("stroke","#803030");
svg.append("rect").attr("x",11.5).attr("y",6.5).attr("width",5).attr("height",10).attr("fill","#3ee05a").attr("stroke","#1f7030");
svg.append("line").attr("x1",14).attr("x2",14).attr("y1",3).attr("y2",19).attr("stroke","#1f7030");
const hdr=(t,xx,len)=>svg.append("text").attr("x",xx).attr("y",15).attr("font-size",12).attr("fill","#111").attr("stroke","#111").attr("stroke-width",.3).attr("textLength",len).attr("lengthAdjust","spacingAndGlyphs").text(t);
hdr("Spot NZD/JPY",24,71);hdr("Journalier",104,55);hdr("71,1665 (-0,18%)",169,84);hdr("9 déc. 2019 15:49:49",262,104);
hdr("Trading.ProRealTime.com",2795,141);
svg.append("rect").attr("x",.5).attr("y",20.5).attr("width",23).attr("height",14).attr("fill","#ccdbe3").attr("stroke",gray);
svg.append("text").attr("x",3).attr("y",32).attr("font-size",11).attr("fill","#000").text("Prix");

// stochastic legend
svg.append("text").attr("x",2).attr("y",1993).attr("font-size",11).attr("fill","#000").text("© ProRealTime Trading");
svg.append("rect").attr("x",.5).attr("y",1999.5).attr("width",53).attr("height",13).attr("fill","#cfdde4").attr("stroke",gray);
svg.append("rect").attr("x",53.5).attr("y",1999.5).attr("width",97).attr("height",13).attr("fill","#cfdde4").attr("stroke",gray);
svg.append("text").attr("x",3).attr("y",2010).attr("font-size",11).attr("fill","#000").text("Stoch %K");
svg.append("text").attr("x",56).attr("y",2010).attr("font-size",11).attr("fill","#f06a70").text("Stoch %D ( 14 3 5 )");
</script>
</body></html>
